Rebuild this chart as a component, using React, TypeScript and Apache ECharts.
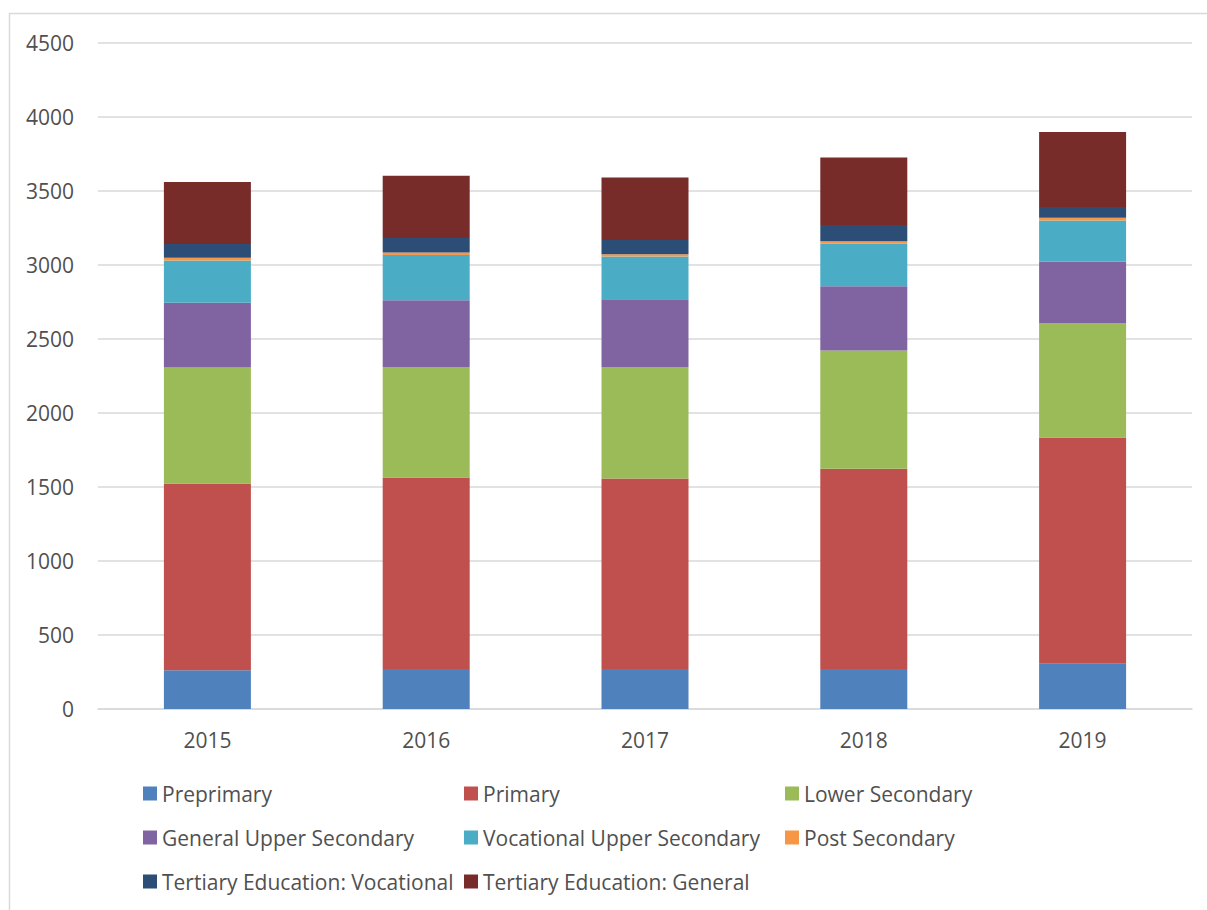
import React, { useEffect, useRef } from "react";
import * as echarts from "echarts";

const years = ["2015", "2016", "2017", "2018", "2019"];
const seriesNames = [
  "Preprimary",
  "Primary",
  "Lower Secondary",
  "General Upper Secondary",
  "Vocational Upper Secondary",
  "Post Secondary",
  "Tertiary Education: Vocational",
  "Tertiary Education: General",
];
const preprimary = [261, 270, 270, 270, 306];
const primary = [1263, 1295, 1288, 1354, 1529];
const lowerSecondary = [784, 746, 753, 799, 773];
const generalUpperSecondary = [437, 450, 457, 433, 416];
const vocationalUpperSecondary = [286, 307, 290, 288, 277];
const postSecondary = [18, 17, 14, 16, 19];
const tertiaryVocational = [93, 97, 97, 110, 72];
const tertiaryGeneral = [419, 421, 423, 457, 507];
const yTicks = [0, 500, 1000, 1500, 2000, 2500, 3000, 3500, 4000, 4500];

const colors = ["#4F81BD", "#C0504D", "#9BBB59", "#8064A2", "#4BACC6", "#F79646", "#2C4D75", "#772C2A"];
const allValues = [
  preprimary,
  primary,
  lowerSecondary,
  generalUpperSecondary,
  vocationalUpperSecondary,
  postSecondary,
  tertiaryVocational,
  tertiaryGeneral,
];

const FONT = "'Open Sans', sans-serif";
const TEXT = "#505050";

export default function App() {
  const ref = useRef<HTMLDivElement>(null);
  useEffect(() => {
    if (!ref.current) return;
    const chart = echarts.init(ref.current, undefined, { renderer: "svg" });
    const colX = [143, 464, 785];
    const rowY = [783, 827, 871];
    const legends = seriesNames.map((name, i) => ({
      data: [name],
      left: colX[i % 3],
      top: rowY[Math.floor(i / 3)],
      orient: "horizontal",
      icon: "rect",
      itemWidth: 14,
      itemHeight: 14,
      padding: 0,
      selectedMode: false,
      textStyle: { fontFamily: FONT, fontSize: 21, color: TEXT },
    }));
    chart.setOption({
      animation: false,
      backgroundColor: "#ffffff",
      color: colors,
      textStyle: { fontFamily: FONT },
      graphic: [
        {
          type: "rect",
          shape: { x: 9.5, y: 13.5, width: 1400, height: 1200 },
          style: { fill: "none", stroke: "#d9d9d9", lineWidth: 1.5 },
          silent: true,
        },
      ],
      legend: legends,
      grid: { left: 98, right: 15, top: 43, bottom: 201, containLabel: false },
      xAxis: {
        type: "category",
        data: years,
        axisLine: { show: true, lineStyle: { color: "#d9d9d9", width: 1.5 } },
        axisTick: { show: false },
        axisLabel: { fontFamily: FONT, fontSize: 21, color: TEXT, margin: 20 },
      },
      yAxis: {
        type: "value",
        min: yTicks[0],
        max: yTicks[yTicks.length - 1],
        interval: 500,
        axisLine: { show: false },
        axisTick: { show: false },
        splitLine: { lineStyle: { color: "#d9d9d9", width: 1.5 } },
        axisLabel: {
          fontFamily: FONT,
          fontSize: 21,
          color: TEXT,
          margin: 24,
          formatter: (v: number) => String(v),
        },
      },
      series: seriesNames.map((name, i) => ({
        name,
        type: "bar",
        stack: "total",
        barWidth: 87,
        data: allValues[i],
        itemStyle: { color: colors[i] },
      })),
    });
    return () => chart.dispose();
  }, []);
  return (
    <div
      ref={ref}
      style={{ position: "absolute", left: 0, top: 0, width: 1207, height: 910 }}
    />
  );
}
